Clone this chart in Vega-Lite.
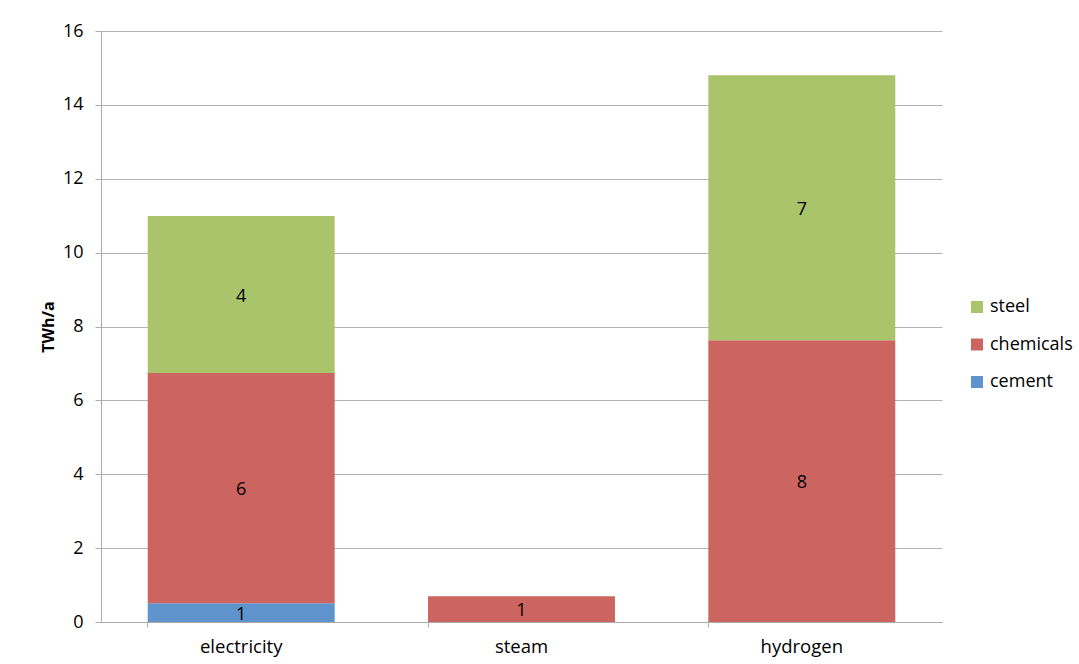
{
  "$schema": "https://vega.github.io/schema/vega-lite/v6.json",
  "width": 841,
  "height": 591,
  "autosize": "none",
  "padding": {"left": 101, "top": 31, "right": 137, "bottom": 42},
  "background": "white",
  "config": {
    "font": "Open Sans",
    "view": {"stroke": null},
    "axis": {"labelFont": "Open Sans", "titleFont": "Open Sans", "labelColor": "#000000", "titleColor": "#000000"}
  },
  "data": {
    "values": [
      {"carrier": "electricity", "sector": "cement", "value": 0.51},
      {"carrier": "electricity", "sector": "chemicals", "value": 6.23},
      {"carrier": "electricity", "sector": "steel", "value": 4.25},
      {"carrier": "steam", "sector": "chemicals", "value": 0.70},
      {"carrier": "hydrogen", "sector": "chemicals", "value": 7.63},
      {"carrier": "hydrogen", "sector": "steel", "value": 7.17}
    ]
  },
  "transform": [
    {"stack": "value", "groupby": ["carrier"], "sort": [{"field": "sector", "order": "ascending"}], "as": ["v0", "v1"]},
    {"calculate": "(datum.v0 + datum.v1) / 2", "as": "mid"}
  ],
  "encoding": {
    "x": {
      "field": "carrier",
      "type": "nominal",
      "scale": {"domain": ["electricity", "steam", "hydrogen"], "paddingInner": 0.333, "paddingOuter": 0.1667},
      "axis": {
        "title": null,
        "labelAngle": 0,
        "labelFontSize": 18.5,
        "labelPadding": 10,
        "bandPosition": 0,
        "tickSize": 5,
        "tickColor": "#ABABAB",
        "domainColor": "#ABABAB",
        "grid": false
      }
    }
  },
  "layer": [
    {
      "mark": {"type": "bar"},
      "encoding": {
        "y": {
          "field": "v1",
          "type": "quantitative",
          "scale": {"domain": [0, 16], "nice": false},
          "axis": {
            "title": "TWh/a",
            "titleFontSize": 16,
            "titleFontWeight": "bold",
            "titlePadding": 6,
            "values": [0, 2, 4, 6, 8, 10, 12, 14, 16],
            "labelFontSize": 18,
            "labelPadding": 12,
            "tickSize": 6,
            "tickColor": "#ABABAB",
            "domainColor": "#ABABAB",
            "gridColor": "#B3B3B3",
            "grid": true
          }
        },
        "y2": {"field": "v0"},
        "color": {
          "field": "sector",
          "type": "nominal",
          "scale": {"domain": ["steel", "chemicals", "cement"], "range": ["#AAC46C", "#CC6560", "#5E93CB"]},
          "legend": {
            "title": null,
            "orient": "none",
            "legendX": 867,
            "legendY": 267,
            "symbolType": "square",
            "symbolSize": 144,
            "symbolStrokeWidth": 0,
            "labelFontSize": 18,
            "labelOffset": 4,
            "rowPadding": 19.5,
            "labelColor": "#000000",
            "labelFont": "Open Sans"
          }
        }
      }
    },
    {
      "mark": {"type": "text", "fontSize": 18, "color": "#000000", "baseline": "middle", "font": "Open Sans", "dy": 2},
      "encoding": {
        "y": {"field": "mid", "type": "quantitative"},
        "text": {"field": "value", "type": "quantitative", "format": ".0f"}
      }
    }
  ]
}
